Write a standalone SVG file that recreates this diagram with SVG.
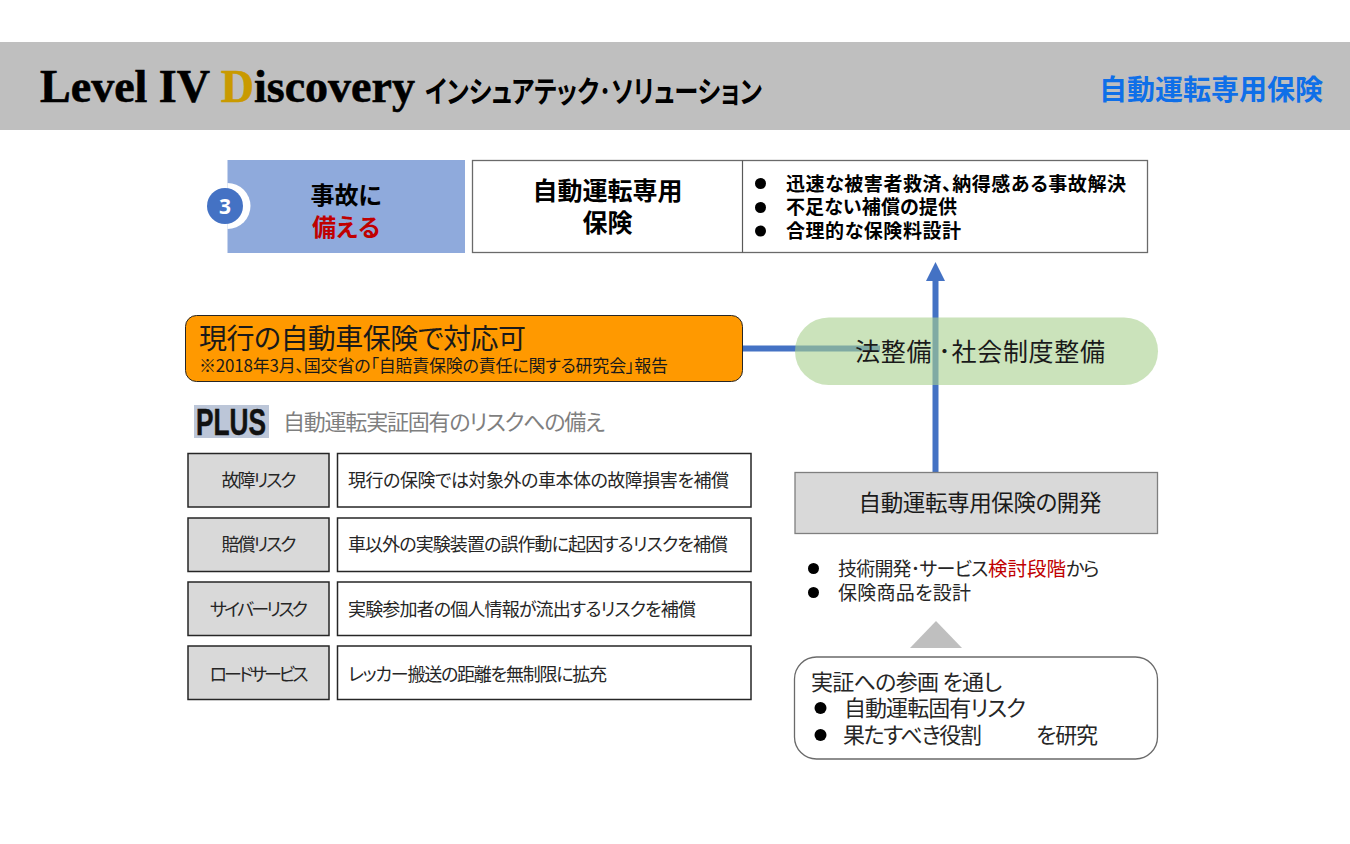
<svg xmlns="http://www.w3.org/2000/svg" width="1350" height="844" viewBox="0 0 1350 844">
<style>
text{font-family:"Noto Sans CJK JP","Noto Sans",sans-serif;fill:#000;font-feature-settings:"palt"}
.b{font-weight:700}
.box{fill:#fff;stroke:#6a6a6a;stroke-width:1.3}
.lab{fill:#d9d9d9;stroke:#262626;stroke-width:1.5}
.cell{fill:#fff;stroke:#262626;stroke-width:1.5}
.t18{font-size:18px;fill:#262626}
.t19{font-size:19px;fill:#262626}
.t22{font-size:22px;fill:#262626}
.bul{font-size:19px;font-weight:700}
</style>
<rect width="1350" height="844" fill="#fff"/>
<g id="header">
<rect x="0" y="42" width="1350" height="88" fill="#bfbfbf"/>
<text x="40" y="102" textLength="375" lengthAdjust="spacingAndGlyphs" style="font-family:'Liberation Serif',serif;font-weight:700;font-size:46px;stroke:#000;stroke-width:.6;font-feature-settings:normal">Level IV <tspan style="fill:#c99a00;stroke:#c99a00">D</tspan>iscovery</text>
<text x="425" y="102" textLength="337" lengthAdjust="spacingAndGlyphs" class="b" style="font-size:30px">インシュアテック･ソリューション</text>
<text x="1099" y="100" textLength="224" class="b" style="font-size:28px;fill:#0f6fe8">自動運転専用保険</text>
</g>
<g id="connectors">
<path d="M743 348.500H880" fill="none" stroke="#4472c4" stroke-width="6"/>
<path d="M935.500 472V280" fill="none" stroke="#4472c4" stroke-width="6"/>
<path d="M935.500 262L945 281H926Z" fill="#4472c4"/>
</g>
<g id="step3">
<rect x="227.500" y="160" width="237.500" height="93" fill="#8faadc"/>
<path d="M227.500 183A23 23 0 0 1 227.500 229Z" fill="#fff"/>
<circle cx="225" cy="206" r="18" fill="#4472c4"/>
<text x="225" y="214" text-anchor="middle" class="b" style="font-size:21px;fill:#fff;font-family:'Open Sans',sans-serif">3</text>
<text x="346" y="204" text-anchor="middle" textLength="71" class="b" style="font-size:24px">事故に</text>
<text x="346" y="236" text-anchor="middle" textLength="68" class="b" style="font-size:24px;fill:#c00000">備える</text>
</g>
<g id="product">
<rect x="472.500" y="160.500" width="675" height="92" class="box"/>
<path d="M742.500 160.500V252.500" stroke="#595959" stroke-width="1.200"/>
<text x="607.500" y="200" text-anchor="middle" textLength="150" class="b" style="font-size:25px">自動運転専用</text>
<text x="607.500" y="232" text-anchor="middle" textLength="50" class="b" style="font-size:25px">保険</text>
<circle cx="760.500" cy="183.500" r="5.500"/><circle cx="760.500" cy="207.500" r="5.500"/><circle cx="760.500" cy="231" r="5.500"/>
<text x="786" y="190.500" textLength="340" class="bul">迅速な被害者救済、納得感ある事故解決</text>
<text x="786" y="214" textLength="171" class="bul">不足ない補償の提供</text>
<text x="786" y="237.500" textLength="175" class="bul">合理的な保険料設計</text>
</g>
<g id="current">
<rect x="185.500" y="315.500" width="557" height="66" rx="11" fill="#ff9900" stroke="#262626" stroke-width="1"/>
<text x="199" y="348.500" textLength="327" style="font-size:28px;fill:#1a1a1a">現行の自動車保険で対応可</text>
<text x="199" y="372" textLength="469" style="font-size:17px;fill:#1a1a1a">※2018年3月、国交省の「自賠責保険の責任に関する研究会」報告</text>
</g>
<g id="legal">
<rect x="795" y="317.500" width="363" height="67.500" rx="33.750" fill="#a9d18e" fill-opacity=".6"/>
<text x="855" y="360.500" textLength="250" style="font-size:25px;fill:#1a1a1a">法整備 ･社会制度整備</text>
</g>
<g id="plus">
<rect x="194" y="405" width="75" height="33" fill="#bcc6d8"/>
<text x="196" y="435" textLength="70" lengthAdjust="spacingAndGlyphs" class="b" style="font-size:37px;fill:#111;stroke:#111;stroke-width:.5;font-family:'Liberation Sans',sans-serif">PLUS</text>
<text x="283" y="429.500" textLength="322" class="t22" style="fill:#7f7f7f">自動運転実証固有のリスクへの備え</text>
</g>
<g id="risk1">
<rect x="188" y="453.500" width="141" height="53.500" class="lab"/>
<rect x="337.500" y="453.500" width="413.500" height="53.500" class="cell"/>
<text x="259" y="486.500" text-anchor="middle" textLength="75" class="t18">故障リスク</text>
<text x="348" y="486.500" textLength="381" class="t18">現行の保険では対象外の車本体の故障損害を補償</text>
</g>
<g id="risk2">
<rect x="188" y="518" width="141" height="53.500" class="lab"/>
<rect x="337.500" y="518" width="413.500" height="53.500" class="cell"/>
<text x="259" y="551" text-anchor="middle" textLength="75" class="t18">賠償リスク</text>
<text x="348" y="551" textLength="380" class="t18">車以外の実験装置の誤作動に起因するリスクを補償</text>
</g>
<g id="risk3">
<rect x="188" y="582" width="141" height="53.500" class="lab"/>
<rect x="337.500" y="582" width="413.500" height="53.500" class="cell"/>
<text x="259" y="615.500" text-anchor="middle" textLength="98" class="t18">サイバーリスク</text>
<text x="348" y="615.500" textLength="348" class="t18">実験参加者の個人情報が流出するリスクを補償</text>
</g>
<g id="risk4">
<rect x="188" y="646" width="141" height="53.500" class="lab"/>
<rect x="337.500" y="646" width="413.500" height="53.500" class="cell"/>
<text x="259" y="680.500" text-anchor="middle" textLength="99" class="t18">ロードサービス</text>
<text x="348" y="680.500" textLength="259" class="t18">レッカー搬送の距離を無制限に拡充</text>
</g>
<g id="dev">
<rect x="795" y="472.500" width="362.500" height="61" fill="#d9d9d9" stroke="#7f7f7f" stroke-width="1.300"/>
<text x="980" y="511" text-anchor="middle" textLength="243" style="font-size:22.500px;fill:#1a1a1a">自動運転専用保険の開発</text>
</g>
<g id="dev-notes">
<circle cx="813.500" cy="568.500" r="5.500"/><circle cx="813.500" cy="592.500" r="5.500"/>
<text x="838" y="575.500" class="t19"><tspan style="letter-spacing:-.8px">技術開発･サービス</tspan><tspan x="988" style="fill:#c00000;font-size:19.500px">検討段階</tspan><tspan x="1066" style="letter-spacing:-1.500px">から</tspan></text>
<text x="838" y="599.500" textLength="133" class="t19">保険商品を設計</text>
</g>
<path id="tri" d="M936 621L962 648H910Z" fill="#bfbfbf"/>
<g id="research">
<rect x="794.500" y="657" width="363" height="102" rx="22" class="box"/>
<text x="811" y="689.500" textLength="191" class="t22">実証への参画 を通し</text>
<circle cx="820.500" cy="708" r="6"/><circle cx="820.500" cy="735" r="6"/>
<text x="844" y="715.500" textLength="182" class="t22">自動運転固有リスク</text>
<text x="843" y="742.500" textLength="139" class="t22">果たすべき役割</text>
<text x="1036" y="742.500" textLength="62" class="t22">を研究</text>
</g>
</svg>
